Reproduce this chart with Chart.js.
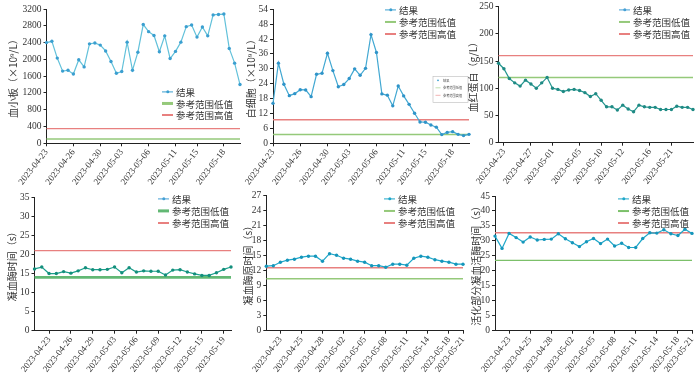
<!DOCTYPE html>
<html>
<head>
<meta charset="utf-8">
<script src="https://cdn.jsdelivr.net/npm/chart.js@4.4.0/dist/chart.umd.min.js"></script>
<style>
body { margin: 0; background: #fff; width: 700px; height: 376px; position: relative; overflow: hidden; font-family: "Noto Sans CJK SC", sans-serif; }
.box { position: absolute; }
.lg { position: absolute; font-size: 9.5px; color: #333; white-space: nowrap; z-index: 5; }
.lg .row { display: flex; align-items: center; height: 11.8px; }
.lg .mk { position: relative; width: 11px; height: 11.8px; margin-right: 3px; }
.lg .mk i { position: absolute; left: 0; right: 0; top: 50%; transform: translateY(-50%); }
.lg .mk b { position: absolute; left: 50%; top: 50%; width: 3.4px; height: 3.4px; border-radius: 50%; transform: translate(-50%, -50%); }
</style>
</head>
<body>
<script>
const RES = '结果', LOW = '参考范围低值', HIGH = '参考范围高值';

// 血小板
const pltValues = [2400, 2430, 2030, 1720, 1740, 1650, 1990, 1820, 2370, 2390, 2340, 2200, 1950, 1670, 1710, 2410, 1740, 2170, 2830, 2660,
                   2570, 2180, 2560, 2020, 2190, 2410, 2780, 2820, 2530, 2770, 2560, 3060, 3070, 3080, 2260, 1910, 1400];
const pltTickIdx = [0, 5, 10, 14, 19, 24, 28, 33];
const pltTickText = ['2023-04-23', '2023-04-26', '2023-04-30', '2023-05-03', '2023-05-06', '2023-05-11', '2023-05-15', '2023-05-18'];
const pltRef = [100, 350];

// 白细胞
const wbcValues = [16.1, 32.3, 23.8, 19.2, 20.0, 21.6, 21.5, 18.8, 27.8, 28.2, 36.3, 29.3, 22.8, 23.7, 26.1, 30.0, 27.4, 30.2, 43.8, 36.6,
                   19.9, 19.4, 15.1, 23.1, 19.1, 15.7, 12.1, 8.6, 8.5, 7.4, 6.5, 3.5, 4.4, 4.7, 3.6, 3.1, 3.6];
const wbcTickIdx = [0, 5, 10, 14, 19, 24, 28, 33];
const wbcTickText = ['2023-04-23', '2023-04-26', '2023-04-30', '2023-05-03', '2023-05-06', '2023-05-11', '2023-05-15', '2023-05-18'];
const wbcRef = [3.5, 9.5];

// 血红蛋白
const hbValues = [146, 136, 118, 110, 104, 115, 108, 100, 110, 120, 100, 98, 94, 97, 98, 96, 92, 85, 90, 78,
                  66, 66, 60, 69, 62, 57, 69, 66, 65, 65, 61, 61, 61, 67, 65, 65, 61];
const hbTickIdx = [1, 6, 10, 15, 19, 23, 28, 32];
const hbTickText = ['2023-04-23', '2023-04-27', '2023-05-01', '2023-05-05', '2023-05-10', '2023-05-12', '2023-05-16', '2023-05-21'];
const hbRef = [120, 160];

// 凝血酶时间
const ttValues = [16.2, 16.7, 15.0, 15.0, 15.5, 15.1, 15.7, 16.5, 16.0, 16.0, 16.1, 16.7, 15.2, 16.5, 15.4, 15.7, 15.6, 15.6, 14.6, 15.9,
                  16.0, 15.4, 14.9, 14.5, 14.5, 15.2, 16.1, 16.7];
const ttTickIdx = [2, 5, 8, 11, 14, 17, 20, 23, 26];
const ttTickText = ['2023-04-23', '2023-04-26', '2023-04-29', '2023-05-03', '2023-05-06', '2023-05-09', '2023-05-12', '2023-05-15', '2023-05-19'];
const ttRef = [14, 21];

// 凝血酶原时间
const ptValues = [12.9, 13.0, 13.7, 14.1, 14.3, 14.7, 14.9, 14.9, 13.9, 15.4, 15.1, 14.5, 14.3, 13.9, 13.7, 13.0, 13.0, 12.7, 13.3, 13.3,
                  13.1, 14.5, 14.9, 14.7, 14.2, 13.9, 13.7, 13.3, 13.3];
const ptTickIdx = [2, 5, 8, 11, 14, 17, 20, 23, 26, 28];
const ptTickText = ['2023-04-23', '2023-04-25', '2023-04-28', '2023-05-02', '2023-05-05', '2023-05-08', '2023-05-11', '2023-05-14', '2023-05-18', '2023-05-21'];
const ptRef = [10.4, 12.6];

// 活化部分凝血活酶时间
const apttValues = [31.6, 27.5, 32.5, 31.1, 29.6, 31.3, 30.3, 30.5, 30.6, 32.4, 30.7, 29.4, 28.1, 29.7, 30.8, 29.1, 30.6, 28.3, 29.2, 27.8,
                    27.8, 30.8, 32.7, 32.6, 33.7, 32.4, 31.8, 33.9, 32.5];
const apttTickIdx = [2, 5, 8, 11, 14, 17, 20, 23, 26, 28];
const apttTickText = ['2023-04-23', '2023-04-25', '2023-04-28', '2023-05-02', '2023-05-05', '2023-05-08', '2023-05-11', '2023-05-14', '2023-05-18', '2023-05-21'];
const apttRef = [23.5, 32.7];

function buildLabels(n, idx, text) {
    const out = Array(n).fill('');
    idx.forEach((k, i) => { out[k] = text[i]; });
    return out;
}

// 차트 2 안에 있는 아주 작은 범례 상자
const miniLegend = {
    id: 'miniLegend',
    afterDraw(chart, args, opts) {
        if (!opts.show) return;
        const ctx = chart.ctx;
        const a = chart.chartArea;
        const x = a.right - 36, y = a.top + 67;
        ctx.save();
        ctx.fillStyle = '#fff';
        ctx.strokeStyle = '#bbb';
        ctx.lineWidth = 0.6;
        ctx.fillRect(x, y, 35, 26);
        ctx.strokeRect(x, y, 35, 26);
        ctx.font = '3.2px "Noto Sans CJK SC"';
        ctx.textBaseline = 'middle';
        const rows = [[RES, '#3b9fd0', true], [LOW, '#95c97a', false], [HIGH, '#e8807f', false]];
        rows.forEach((r, i) => {
            const ry = y + 4 + i * 7.5;
            if (r[2]) {
                ctx.fillStyle = r[1];
                ctx.beginPath(); ctx.arc(x + 5, ry, 0.9, 0, Math.PI * 2); ctx.fill();
            } else {
                ctx.strokeStyle = r[1]; ctx.lineWidth = 0.6;
                ctx.beginPath(); ctx.moveTo(x + 2.5, ry); ctx.lineTo(x + 7.5, ry); ctx.stroke();
            }
            ctx.fillStyle = '#444';
            ctx.fillText(r[0], x + 10, ry);
        });
        ctx.restore();
    }
};

const panels = [
    { values: pltValues, tickIdx: pltTickIdx, tickText: pltTickText, ref: pltRef, yMax: 3200, yStep: 400,
      title: '血小板（×10⁹/L）', color: '#62c1da', point: '#3b9fd0', legendColor: '#3b9fd0',
      lowColor: '#95c97a', lowWidth: 1.5,
      box: { left: 5, top: 0, w: 239, h: 186, yW: 41.5, padTop: 9, xH: 42.7 }, legend: { x: 162, y: 85.8 } },
    { values: wbcValues, tickIdx: wbcTickIdx, tickText: wbcTickText, ref: wbcRef, yMax: 54, yStep: 6,
      title: '白细胞（×10⁹/L）', color: '#42a8d2', point: '#2f94c9', legendColor: '#3b9fd0',
      lowColor: '#95c97a', lowWidth: 1.5, mini: true,
      box: { left: 243, top: 0, w: 230, h: 186, yW: 30, padTop: 9.3, xH: 42.7 }, legend: { x: 385, y: 4.1 } },
    { values: hbValues, tickIdx: hbTickIdx, tickText: hbTickText, ref: hbRef, yMax: 250, yStep: 50,
      title: '血红蛋白（g/L）', color: '#23968f', point: '#1f8a84', legendColor: '#45a0d5',
      lowColor: '#95c97a', lowWidth: 1.5,
      box: { left: 465, top: 0, w: 232, h: 186, yW: 33.5, padTop: 6.7, xH: 43.3 }, legend: { x: 619, y: 4.1 } },
    { values: ttValues, tickIdx: ttTickIdx, tickText: ttTickText, ref: ttRef, yMax: 35, yStep: 5,
      title: '凝血酶时间（s）', color: '#1b9e8c', point: '#138f7c', legendColor: '#45a0d5',
      lowColor: '#62b874', lowWidth: 2.6,
      box: { left: 4, top: 186, w: 231, h: 190, yW: 30.5, padTop: 11.3, xH: 45.3 }, legend: { x: 158, y: 193.1 } },
    { values: ptValues, tickIdx: ptTickIdx, tickText: ptTickText, ref: ptRef, yMax: 27, yStep: 3,
      title: '凝血酶原时间（s）', color: '#1fa7c9', point: '#1596bb', legendColor: '#1fa7c9',
      lowColor: '#95c97a', lowWidth: 1.5,
      box: { left: 240, top: 186, w: 227, h: 190, yW: 26.3, padTop: 9.7, xH: 45.3 }, legend: { x: 384, y: 193.1 } },
    { values: apttValues, tickIdx: apttTickIdx, tickText: apttTickText, ref: apttRef, yMax: 45, yStep: 5,
      title: '活化部分凝血活酶时间（s）', color: '#1fa7c9', point: '#1596bb', legendColor: '#1fa7c9',
      lowColor: '#7cc06a', lowWidth: 1.3,
      box: { left: 468, top: 186, w: 228, h: 190, yW: 27, padTop: 10, xH: 45.3 }, legend: { x: 618, y: 193.1 } },
];

function makeLegend(p, chart) {
    const lg = document.createElement('div');
    lg.className = 'lg';
    lg.style.left = p.legend.x + 'px';
    lg.style.top = p.legend.y + 'px';
    chart.data.datasets.forEach((ds, i) => {
        const row = document.createElement('div');
        row.className = 'row';
        const mk = document.createElement('span');
        mk.className = 'mk';
        const line = document.createElement('i');
        line.style.height = (i === 0 ? 1.2 : ds.borderWidth + 0.6) + 'px';
        line.style.background = i === 0 ? p.legendColor : ds.borderColor;
        mk.appendChild(line);
        if (i === 0) {
            const dot = document.createElement('b');
            dot.style.background = p.legendColor;
            mk.appendChild(dot);
        }
        row.appendChild(mk);
        const t = document.createElement('span');
        t.textContent = ds.label;
        row.appendChild(t);
        lg.appendChild(row);
    });
    document.body.appendChild(lg);
}

function makeChart(p) {
    const div = document.createElement('div');
    div.className = 'box';
    div.style.left = p.box.left + 'px';
    div.style.top = p.box.top + 'px';
    div.style.width = p.box.w + 'px';
    div.style.height = p.box.h + 'px';
    const cv = document.createElement('canvas');
    cv.width = p.box.w;
    cv.height = p.box.h;
    div.appendChild(cv);
    document.body.appendChild(div);

    const labels = buildLabels(p.values.length, p.tickIdx, p.tickText);
    const n = labels.length;
    const axisColor = '#222';
    const serif = '"Liberation Serif", "DejaVu Serif", serif';

    const chart = new Chart(cv.getContext('2d'), {
        type: 'line',
        data: {
            labels: labels,
            datasets: [
                {
                    label: RES,
                    data: p.values,
                    borderColor: p.color,
                    backgroundColor: p.point,
                    pointBackgroundColor: p.point,
                    pointBorderColor: p.point,
                    pointBorderWidth: 0,
                    pointRadius: 1.7,
                    borderWidth: 1.2,
                    fill: false,
                },
                {
                    label: LOW,
                    data: Array(n).fill(p.ref[0]),
                    borderColor: p.lowColor,
                    borderWidth: p.lowWidth,
                    pointRadius: 0,
                    fill: false,
                },
                {
                    label: HIGH,
                    data: Array(n).fill(p.ref[1]),
                    borderColor: '#e8807f',
                    borderWidth: 1.4,
                    pointRadius: 0,
                    fill: false,
                },
            ]
        },
        options: {
            responsive: false,
            animation: false,
            layout: { padding: { top: p.box.padTop, right: 3, left: 0, bottom: 0 } },
            plugins: {
                legend: { display: false },
                tooltip: { enabled: false },
                miniLegend: { show: !!p.mini },
            },
            scales: {
                x: {
                    type: 'category',
                    offset: false,
                    grid: {
                        drawOnChartArea: false,
                        tickLength: 3,
                        color: c => (c.tick && c.tick.label) ? axisColor : 'rgba(0,0,0,0)',
                    },
                    border: { display: true, color: axisColor, width: 1 },
                    ticks: {
                        autoSkip: false, maxRotation: 52, minRotation: 52, padding: 1,
                        color: '#333', font: { family: serif, size: 9 },
                    },
                    afterFit: s => { s.height = p.box.xH; s.paddingLeft = 0; s.paddingRight = 0; },
                },
                y: {
                    min: 0,
                    max: p.yMax,
                    grid: { drawOnChartArea: false, tickLength: 3, color: axisColor },
                    border: { display: true, color: axisColor, width: 1 },
                    ticks: {
                        stepSize: p.yStep, padding: 2, color: '#333', font: { family: serif, size: 9.5 },
                        callback: v => String(v),
                    },
                    title: {
                        display: true, text: p.title, color: '#333',
                        font: { family: 'Noto Sans CJK SC', size: 10 },
                        padding: { top: 2, bottom: 0 },
                    },
                    afterFit: s => { s.width = p.box.yW; s.paddingTop = 0; s.paddingBottom = 0; },
                }
            }
        },
        plugins: [miniLegend]
    });
    makeLegend(p, chart);
}

panels.forEach(makeChart);
</script>
</body>
</html>
